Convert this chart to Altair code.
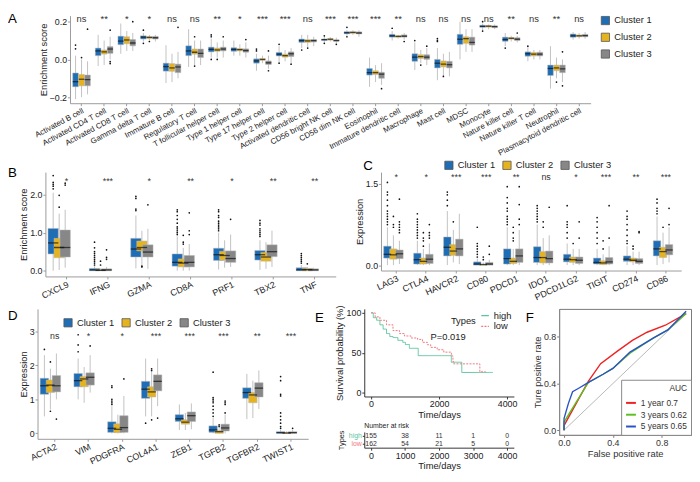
import altair as alt
import pandas as pd

FONT = "Liberation Sans"
CLUSTERS = ["Cluster 1", "Cluster 2", "Cluster 3"]
CL_COLORS = ["#1f6db4", "#e6b320", "#878787"]

# ---------------- Panel A ----------------
a_cats = ["Activated B cell", "Activated CD4 T cell", "Activated CD8 T cell", "Gamma delta T cell",
          "Immature B cell", "Regulatory T cell", "T follicular helper cell", "Type 1 helper cell",
          "Type 17 helper cell", "Type 2 helper cell", "Activated dendritic cell", "CD56 bright NK cell",
          "CD56 dim NK cell", "Eosinophil", "Immature dendritic cell", "Macrophage", "Mast cell", "MDSC",
          "Monocyte", "Nature killer cell", "Nature killer T cell", "Neutrophil", "Plasmacytoid dendritic cell"]
a_sig = ["ns", "**", "*", "*", "ns", "ns", "**", "*", "***", "***", "ns", "***", "***", "***", "**",
         "ns", "ns", "ns", "ns", "**", "ns", "**", "ns"]
# (lo, q1, median, q3, hi)
a_c1 = [(-0.21, -0.145, -0.118, -0.072, 0.02), (-0.035, 0.02, 0.045, 0.06, 0.13), (0.03, 0.078, 0.097, 0.123, 0.19),
        (0.095, 0.108, 0.118, 0.125, 0.14), (-0.125, -0.062, -0.038, -0.02, 0.075), (-0.04, 0.02, 0.045, 0.072, 0.16),
        (0.01, 0.04, 0.053, 0.065, 0.11), (0.02, 0.043, 0.053, 0.062, 0.1), (-0.06, -0.02, -0.008, 0.003, 0.03),
        (-0.015, 0.018, 0.028, 0.037, 0.07), (0.06, 0.09, 0.1, 0.108, 0.13), (0.09, 0.1, 0.105, 0.108, 0.12),
        (0.125, 0.136, 0.141, 0.147, 0.155), (-0.145, -0.083, -0.07, -0.048, 0.01), (0.1, 0.118, 0.125, 0.133, 0.15),
        (-0.056, -0.01, 0.012, 0.03, 0.09), (-0.11, -0.045, -0.02, 0.0, 0.06), (0.0, 0.08, 0.107, 0.133, 0.2),
        (0.155, 0.17, 0.175, 0.181, 0.19), (0.07, 0.096, 0.105, 0.118, 0.14), (-0.01, 0.017, 0.03, 0.04, 0.065),
        (-0.155, -0.085, -0.048, -0.03, 0.07), (0.105, 0.118, 0.125, 0.135, 0.145)]
a_c2 = [(-0.2, -0.14, -0.105, -0.08, 0.0), (-0.03, 0.028, 0.04, 0.05, 0.1), (0.045, 0.083, 0.103, 0.12, 0.15),
        (0.1, 0.11, 0.117, 0.12, 0.13), (-0.12, -0.063, -0.045, -0.022, 0.03), (-0.03, 0.028, 0.038, 0.055, 0.1),
        (0.01, 0.043, 0.05, 0.06, 0.09), (0.02, 0.045, 0.052, 0.058, 0.08), (-0.02, -0.005, 0.0, 0.005, 0.02),
        (-0.01, 0.012, 0.02, 0.028, 0.05), (0.065, 0.09, 0.098, 0.105, 0.13), (0.095, 0.102, 0.107, 0.11, 0.118),
        (0.13, 0.138, 0.143, 0.147, 0.155), (-0.12, -0.08, -0.07, -0.06, -0.03), (0.11, 0.117, 0.122, 0.126, 0.13),
        (-0.02, 0.005, 0.015, 0.025, 0.05), (-0.09, -0.04, -0.025, -0.008, 0.03), (0.04, 0.085, 0.11, 0.12, 0.16),
        (0.16, 0.171, 0.176, 0.18, 0.185), (0.095, 0.107, 0.112, 0.116, 0.125), (0.0, 0.018, 0.028, 0.037, 0.05),
        (-0.1, -0.06, -0.045, -0.03, 0.01), (0.11, 0.12, 0.125, 0.13, 0.14)]
a_c3 = [(-0.185, -0.14, -0.107, -0.083, -0.01), (0.0, 0.032, 0.055, 0.068, 0.12), (0.045, 0.072, 0.087, 0.105, 0.14),
        (0.095, 0.108, 0.115, 0.122, 0.13), (-0.1, -0.07, -0.04, -0.025, 0.04), (-0.03, 0.01, 0.032, 0.055, 0.1),
        (0.01, 0.045, 0.055, 0.065, 0.1), (0.01, 0.038, 0.047, 0.056, 0.09), (-0.05, -0.027, -0.018, -0.008, 0.02),
        (-0.02, 0.015, 0.03, 0.04, 0.06), (0.07, 0.092, 0.1, 0.105, 0.12), (0.085, 0.096, 0.1, 0.104, 0.115),
        (0.12, 0.135, 0.14, 0.146, 0.155), (-0.135, -0.1, -0.078, -0.068, -0.02), (0.105, 0.118, 0.123, 0.13, 0.14),
        (-0.03, 0.0, 0.012, 0.025, 0.06), (-0.09, -0.045, -0.028, -0.01, 0.04), (0.04, 0.076, 0.09, 0.118, 0.16),
        (0.16, 0.168, 0.174, 0.178, 0.185), (0.09, 0.1, 0.107, 0.115, 0.125), (0.0, 0.018, 0.028, 0.038, 0.05),
        (-0.12, -0.07, -0.05, -0.03, 0.0), (0.11, 0.12, 0.126, 0.133, 0.145)]
a_out = {
    "Activated B cell": [[0.076, 0.056], [0.01], [0.16]],
    "Activated CD4 T cell": [[], [], [0.155, -0.012, -0.022]],
    "Activated CD8 T cell": [[], [], [0.2]],
    "Gamma delta T cell": [[0.155, 0.085], [0.095], []],
    "Immature B cell": [[], [], [0.17]],
    "Regulatory T cell": [[], [0.12, -0.035], []],
    "T follicular helper cell": [[0.13, 0.12, 0.0], [0.0], [0.12]],
    "Type 1 helper cell": [[], [], [0.105]],
    "Type 17 helper cell": [[0.055, 0.045], [], [0.045, -0.06]],
    "Type 2 helper cell": [[0.08, -0.02], [], [-0.025]],
    "Activated dendritic cell": [[0.05], [0.06], []],
    "CD56 bright NK cell": [[0.125, 0.085], [], [0.08]],
    "CD56 dim NK cell": [[0.17, 0.12], [], []],
    "Eosinophil": [[], [], [-0.155]],
    "Immature dendritic cell": [[0.165], [], [0.095]],
    "Macrophage": [[0.1], [-0.03], [0.07]],
    "Mast cell": [[0.11, 0.1, 0.095], [-0.09], []],
    "Monocyte": [[0.2, 0.15], [], []],
    "Nature killer cell": [[0.06], [], [0.14]],
    "Nature killer T cell": [[0.07], [], []],
    "Neutrophil": [[], [-0.12], [-0.14, 0.04]],
}

# ---------------- Panel B ----------------
b_cats = ["CXCL9", "IFNG", "GZMA", "CD8A", "PRF1", "TBX2", "TNF"]
b_sig = ["*", "***", "*", "**", "*", "**", "**"]
b_c1 = [(0.0, 0.44, 0.73, 1.11, 2.05), (0.0, 0.0, 0.02, 0.06, 0.12), (0.06, 0.36, 0.57, 0.85, 1.45),
        (0.0, 0.12, 0.22, 0.44, 0.9), (0.03, 0.27, 0.42, 0.59, 1.0), (0.02, 0.28, 0.42, 0.53, 0.8),
        (0.0, 0.0, 0.02, 0.08, 0.15)]
b_c2 = [(0.02, 0.34, 0.61, 0.85, 1.5), (0.0, 0.0, 0.01, 0.03, 0.06), (0.12, 0.52, 0.61, 0.78, 1.05),
        (0.0, 0.1, 0.2, 0.31, 0.6), (0.08, 0.28, 0.4, 0.51, 0.8), (0.05, 0.25, 0.36, 0.48, 0.75),
        (0.0, 0.0, 0.03, 0.06, 0.1)]
b_c3 = [(0.08, 0.36, 0.61, 1.07, 1.6), (0.0, 0.0, 0.02, 0.05, 0.1), (0.05, 0.36, 0.49, 0.68, 1.1),
        (0.0, 0.1, 0.22, 0.4, 0.7), (0.1, 0.22, 0.32, 0.52, 0.95), (0.1, 0.37, 0.5, 0.68, 1.05),
        (0.0, 0.0, 0.02, 0.05, 0.08)]
b_out = {
    "CXCL9": [[2.5, 2.32, 2.27, 2.22, 2.15], [1.98, 1.67], [2.3, 2.25]],
    "IFNG": [[0.75, 0.6, 0.5, 0.45, 0.4, 0.35, 0.3, 0.25, 0.2, 0.15], [0.25, 0.15], [0.55, 0.35, 0.3]],
    "GZMA": [[1.95, 1.9, 1.62, 1.58], [0.1, 0.12], [1.73]],
    "CD8A": [[1.6, 1.55, 1.45, 1.35, 1.25, 1.15, 1.1, 1.05, 1.0, 0.95], [0.93, 0.75, 0.7], [1.52, 1.05, 0.95]],
    "PRF1": [[1.6, 1.55, 1.45, 1.4, 1.3, 1.25, 1.2, 1.15, 1.1, 1.05], [], [1.35]],
    "TBX2": [[1.32, 1.25, 1.2, 1.1, 1.05, 1.0, 0.95, 0.9], [], []],
    "TNF": [[0.45, 0.4, 0.35, 0.3, 0.25, 0.2], [0.18], []],
}

# ---------------- Panel C ----------------
c_cats = ["LAG3", "CTLA4", "HAVCR2", "CD80", "PDCD1", "IDO1", "PDCD1LG2", "TIGIT", "CD274", "CD86"]
c_sig = ["*", "*", "***", "***", "**", "ns", "*", "***", "**", "***"]
c_c1 = [(0.0, 0.13, 0.2, 0.35, 0.7), (0.0, 0.02, 0.1, 0.22, 0.45), (0.0, 0.17, 0.33, 0.52, 1.0),
        (0.0, 0.0, 0.02, 0.06, 0.12), (0.0, 0.02, 0.12, 0.3, 0.7), (0.0, 0.05, 0.14, 0.34, 0.75),
        (0.0, 0.06, 0.11, 0.2, 0.4), (0.0, 0.02, 0.05, 0.13, 0.3), (0.0, 0.07, 0.11, 0.17, 0.35),
        (0.0, 0.17, 0.3, 0.45, 0.9)]
c_c2 = [(0.0, 0.11, 0.19, 0.3, 0.55), (0.0, 0.02, 0.07, 0.13, 0.3), (0.05, 0.18, 0.26, 0.38, 0.65),
        (0.0, 0.0, 0.01, 0.02, 0.05), (0.0, 0.03, 0.07, 0.13, 0.3), (0.0, 0.04, 0.14, 0.25, 0.5),
        (0.0, 0.05, 0.1, 0.15, 0.3), (0.0, 0.01, 0.04, 0.08, 0.2), (0.0, 0.06, 0.09, 0.13, 0.25),
        (0.02, 0.14, 0.25, 0.33, 0.6)]
c_c3 = [(0.02, 0.12, 0.21, 0.28, 0.45), (0.0, 0.03, 0.11, 0.2, 0.4), (0.02, 0.17, 0.3, 0.48, 0.95),
        (0.0, 0.0, 0.02, 0.05, 0.1), (0.0, 0.05, 0.17, 0.3, 0.65), (0.0, 0.04, 0.12, 0.26, 0.55),
        (0.0, 0.03, 0.09, 0.15, 0.3), (0.0, 0.02, 0.06, 0.14, 0.35), (0.0, 0.03, 0.07, 0.12, 0.25),
        (0.05, 0.19, 0.28, 0.38, 0.7)]
c_out = {
    "LAG3": [[1.53, 1.35, 1.3, 1.2, 1.1, 1.0, 0.95, 0.9, 0.85, 0.8, 0.75], [0.9, 0.75, 0.7], [1.22, 0.8, 0.75, 0.7, 0.65, 0.6]],
    "CTLA4": [[0.95, 0.85, 0.8, 0.75, 0.7, 0.65, 0.6, 0.55, 0.5], [0.6, 0.5, 0.45, 0.35], [0.75, 0.6, 0.55, 0.5]],
    "HAVCR2": [[1.35, 1.3, 1.2, 1.1], [0.8], []],
    "CD80": [[0.7, 0.4, 0.35, 0.3, 0.25, 0.2, 0.15], [0.15, 0.1], [0.35, 0.2]],
    "PDCD1": [[1.45, 1.25, 1.15, 1.05, 1.0, 0.9, 0.85, 0.8, 0.75], [0.7, 0.6, 0.5, 0.45], [1.45, 1.12, 0.85, 0.75]],
    "IDO1": [[1.1, 1.05, 1.0, 0.95, 0.9, 0.85, 0.8], [0.8, 0.7], [1.07]],
    "PDCD1LG2": [[1.1, 0.8, 0.75, 0.7, 0.6, 0.5], [0.4], [0.8, 0.5]],
    "TIGIT": [[0.88, 0.8, 0.7, 0.6, 0.5, 0.4], [0.45, 0.3], [1.1, 0.5]],
    "CD274": [[1.0, 0.9, 0.85, 0.75, 0.65, 0.55, 0.45, 0.4], [0.35, 0.3], [0.62, 0.6]],
    "CD86": [[1.22, 1.15, 1.05, 1.0, 0.95], [0.7], [1.05, 0.75]],
}

# ---------------- Panel D ----------------
d_cats = ["ACTA2", "VIM", "PDGFRA", "COL4A1", "ZEB1", "TGFB2", "TGFBR2", "TWIST1"]
d_sig = ["ns", "*", "*", "***", "***", "***", "**", "***"]
d_c1 = [(0.5, 1.15, 1.4, 1.62, 2.3), (1.0, 1.37, 1.55, 1.76, 2.2), (0.0, 0.03, 0.15, 0.34, 0.8),
        (0.5, 1.03, 1.3, 1.53, 2.2), (0.1, 0.35, 0.43, 0.55, 0.85), (0.0, 0.03, 0.1, 0.22, 0.45),
        (0.42, 1.03, 1.2, 1.34, 1.75), (0.0, 0.0, 0.02, 0.05, 0.1)]
d_c2 = [(0.7, 1.2, 1.42, 1.57, 1.9), (0.9, 1.37, 1.6, 1.67, 1.95), (0.0, 0.02, 0.12, 0.28, 0.55),
        (0.5, 1.07, 1.22, 1.37, 1.85), (0.1, 0.27, 0.33, 0.4, 0.6), (0.0, 0.0, 0.05, 0.08, 0.15),
        (0.45, 0.9, 1.13, 1.2, 1.55), (0.0, 0.0, 0.01, 0.03, 0.06)]
d_c3 = [(1.0, 1.22, 1.4, 1.7, 2.35), (1.2, 1.42, 1.65, 1.78, 2.3), (0.0, 0.03, 0.17, 0.52, 1.1),
        (0.8, 1.25, 1.53, 1.72, 2.2), (0.12, 0.35, 0.52, 0.63, 0.88), (0.0, 0.07, 0.16, 0.27, 0.55),
        (0.72, 1.07, 1.33, 1.49, 1.85), (0.0, 0.0, 0.02, 0.05, 0.1)]
d_out = {
    "ACTA2": [[2.47], [2.1, 0.65], [0.42]],
    "VIM": [[2.9, 2.6, 2.4], [], [2.57]],
    "PDGFRA": [[1.4, 1.35, 1.0, 0.95, 0.9, 0.85], [], [1.6]],
    "COL4A1": [[0.3], [1.9, 1.85, 0.4], [0.45]],
    "TGFB2": [[1.8, 1.05, 1.0, 0.95, 0.9, 0.8, 0.7, 0.6, 0.5], [0.25, 0.2], [0.95, 0.9, 0.85, 0.6]],
    "TWIST1": [[1.67, 1.55, 1.15, 1.1, 0.6, 0.5, 0.4, 0.3, 0.2, 0.15], [], [0.15]],
}

# ---------------- Panel E (KM) ----------------
km_high_t = [0, 66, 165, 260, 355, 454, 549, 645, 789, 934, 1010, 1127, 1387, 2361, 2668, 3584]
km_high_s = [100, 94, 90.7, 85, 79.6, 74, 70.4, 69, 65.5, 63, 60.3, 55.5, 46.3, 38, 25.2, 25.2]
km_low_t = [0, 120, 260, 454, 645, 838, 983, 1176, 1368, 1512, 1656, 1754, 1945, 2139, 2361, 2408, 2428, 3199, 3372]
km_low_s = [100, 95, 90.7, 85, 77.8, 74, 71, 68.5, 66.7, 63, 60, 56.7, 53.7, 50.7, 46, 38.9, 36, 26, 26]
risk_times = [0, 1000, 2000, 3000, 4000]
risk_high = [155, 38, 11, 1, 0]
risk_low = [162, 54, 21, 5, 0]
km_types = ["high", "low"]
km_colors = ["#5cc49e", "#f0787c"]

# ---------------- Panel F (ROC) ----------------
roc_labels = ["1 year  0.7", "3 years 0.62", "5 years 0.65"]
roc_colors = ["#ee2222", "#5cbf22", "#2a52c8"]
roc1_fpr = [0, 0, 0.1, 0.2, 0.3, 0.44, 0.56, 0.68, 0.83, 1.0]
roc1_tpr = [0, 0.04, 0.23, 0.42, 0.57, 0.68, 0.77, 0.84, 0.9, 1.0]
roc3_fpr = [0, 0, 0.1, 0.2, 0.32, 0.4, 0.54, 0.73, 0.85, 1.0]
roc3_tpr = [0, 0.07, 0.24, 0.41, 0.48, 0.53, 0.66, 0.79, 0.86, 1.0]
roc5_fpr = [0, 0, 0.036, 0.07, 0.12, 0.2, 0.32, 0.4, 0.54, 0.73, 0.85, 1.0]
roc5_tpr = [0, 0.1, 0.23, 0.33, 0.36, 0.41, 0.48, 0.53, 0.67, 0.79, 0.86, 1.02]

AX_COL = "#9a9a9a"
TXT = "#222222"
LAB = 9
TIT = 9.5
LET = 13.5


def tag_mark(t, dx, dy):
    """Panel tag text drawn relative to a panel's frame (annotation, not data)."""
    return alt.Chart(pd.DataFrame({"tag": [t]})).mark_text(
        fontSize=LET, font=FONT, color="#000000", align="left", baseline="top").encode(
        text="tag:N", x=alt.value(dx), y=alt.value(dy))


def letter_cell(t, w=11, h=13, dy=0):
    """Small cell holding a panel tag, placed beside a panel by the concat layout."""
    return tag_mark(t, 0, dy).properties(width=w, height=h)


def box_panel(cats, sig, stats, outl, ydom, ysig, w, h, ytitle, yvals, yfmt, legend, extra=None,
              sig_size=9, lab_size=9, lab_angle=-25, pi=0.22, po=0.12):
    rows = []
    for ci, cl in enumerate(CLUSTERS):
        for cat, s in zip(cats, stats[ci]):
            lo, q1, med, q3, hi = s
            rows.append(dict(cat=cat, cluster=cl, lo=lo, q1=q1, med=med, q3=q3, hi=hi))
    df = pd.DataFrame(rows)
    orows = []
    for cat, lists in outl.items():
        for ci, vals in enumerate(lists):
            for v in vals:
                orows.append(dict(cat=cat, cluster=CLUSTERS[ci], v=v))
    odf = pd.DataFrame(orows)
    sdf = pd.DataFrame(dict(cat=cats, sig=sig, y=[ysig] * len(cats)))

    n = len(cats)
    step = w / (n - pi + 2 * po)
    band = step * (1 - pi)
    opi = 0.06
    obox = band / (3 - opi) * (1 - opi)

    xs = alt.Scale(domain=cats, paddingInner=pi, paddingOuter=po)
    xax = alt.Axis(title=None, labelAngle=lab_angle, labelAlign="right", labelBaseline="top",
                   labelFontSize=lab_size, labelColor=TXT, domainColor=AX_COL, tickColor=AX_COL, tickSize=2.5,
                   labelPadding=1, labelFont=FONT)
    x = alt.X("cat:N", scale=xs, axis=xax)
    xo = alt.XOffset("cluster:N", scale=alt.Scale(domain=CLUSTERS, paddingInner=opi, paddingOuter=0))
    ys = alt.Scale(domain=ydom, nice=False, zero=False)
    yax = alt.Axis(title=ytitle, values=yvals, format=yfmt, labelFontSize=LAB, titleFontSize=TIT,
                   labelColor=TXT, titleColor=TXT, domainColor=AX_COL, tickColor=AX_COL, tickSize=2.5,
                   labelPadding=1, titlePadding=1, titleFontWeight="normal", labelFont=FONT, titleFont=FONT)
    color = alt.Color("cluster:N", scale=alt.Scale(domain=CLUSTERS, range=CL_COLORS), legend=legend)

    whisk = alt.Chart(df).mark_rule(color="#b3b3b3", strokeWidth=0.8).encode(
        x=x, xOffset=xo, y=alt.Y("lo:Q", scale=ys, axis=yax), y2="hi:Q")
    box = alt.Chart(df).mark_bar(stroke="#b8b8b8", strokeWidth=0.5, width=obox).encode(
        x=x, xOffset=xo, y=alt.Y("q1:Q", scale=ys), y2="q3:Q", color=color)
    med = alt.Chart(df).mark_tick(color="#111111", thickness=1.3, size=obox).encode(
        x=x, xOffset=xo, y=alt.Y("med:Q", scale=ys))
    pts = alt.Chart(odf).mark_circle(color="#111111", size=3, opacity=1).encode(
        x=x, xOffset=xo, y=alt.Y("v:Q", scale=ys))
    txt = alt.Chart(sdf).mark_text(fontSize=sig_size, color="#333333", font=FONT).encode(
        x=x, y=alt.Y("y:Q", scale=ys), text="sig:N")
    layers = [whisk, box, med, pts, txt]
    if extra is not None:
        layers.append(extra)
    return alt.layer(*layers).properties(width=w, height=h)


def cl_legend(**kw):
    return alt.Legend(title=None, symbolType="square", symbolSize=70, symbolStrokeColor="#555555",
                      symbolStrokeWidth=0.8, labelFontSize=9.5, labelFont=FONT, labelColor=TXT, **kw)


legA = cl_legend(orient="right", rowPadding=5, offset=10)
legC = cl_legend(orient="none", direction="horizontal", legendX=64, legendY=-12, columnPadding=5)
legD = cl_legend(orient="none", direction="horizontal", legendX=56, legendY=9, columnPadding=5)

chartA = box_panel(a_cats, a_sig, [a_c1, a_c2, a_c3], a_out, [-0.232, 0.232], 0.215, 529, 89,
                   "Enrichment score", [-0.2, -0.1, 0.0, 0.1, 0.2], ".1f", legA,
                   sig_size=9.5, lab_size=8, lab_angle=-28)
chartB = box_panel(b_cats, b_sig, [b_c1, b_c2, b_c3], b_out, [-0.15, 2.59], 2.36, 295, 106,
                   "Enrichment score", [0, 0.5, 1.0, 1.5, 2.0, 2.5], ".1f", None)
chartC = box_panel(c_cats, c_sig, [c_c1, c_c2, c_c3], c_out, [-0.1, 1.72], 1.62, 305, 100,
                   "Expression", [0, 0.5, 1.0, 1.5], ".1f", legC, extra=tag_mark("C", -18, -13))
chartD = box_panel(d_cats, d_sig, [d_c1, d_c2, d_c3], d_out, [-0.16, 3.66], 2.85, 275, 132,
                   "Expression", [0, 1, 2, 3], "d", legD)

# ---- E ----
km_rows = []
for i, (t, s) in enumerate(zip(km_high_t, km_high_s)):
    km_rows.append(dict(type="high", t=t, s=s, i=i))
for i, (t, s) in enumerate(zip(km_low_t, km_low_s)):
    km_rows.append(dict(type="low", t=t, s=s, i=i))
km_df = pd.DataFrame(km_rows)
xs_km = alt.Scale(domain=[-200, 4200], nice=False)
km_xax = alt.Axis(title="Time/days", values=risk_times, format="d", labelFontSize=LAB, titleFontSize=TIT,
                  labelColor=TXT, titleColor=TXT, domainColor="#333333", tickColor="#333333", tickSize=2.5,
                  labelPadding=1, titlePadding=1, titleFontWeight="normal", labelFont=FONT, titleFont=FONT)
km_line = alt.Chart(km_df).mark_line(interpolate="step-after", strokeWidth=1).encode(
    x=alt.X("t:Q", scale=xs_km, axis=km_xax),
    y=alt.Y("s:Q", scale=alt.Scale(domain=[-5, 105], nice=False),
            axis=alt.Axis(title="Survival probability (%)", values=[0, 25, 50, 75, 100], labelFontSize=LAB,
                          titleFontSize=TIT, labelColor=TXT, titleColor=TXT, domainColor="#333333",
                          tickColor="#333333", tickSize=2.5, labelPadding=1, titlePadding=2,
                          titleFontWeight="normal", labelFont=FONT, titleFont=FONT)),
    color=alt.Color("type:N", scale=alt.Scale(domain=km_types, range=km_colors),
                    legend=alt.Legend(title="Types", orient="top-right", offset=2, titleOrient="left",
                                      symbolType="stroke", symbolStrokeWidth=1.2, symbolSize=60,
                                      labelFontSize=9.5, titleFontSize=9.5, titleFontWeight="normal",
                                      labelFont=FONT, titleFont=FONT, labelColor=TXT, titleColor=TXT,
                                      rowPadding=0, padding=0, titlePadding=4)),
    strokeDash=alt.StrokeDash("type:N", scale=alt.Scale(domain=km_types, range=[[1, 0], [2, 1.3]]), legend=None),
    order="i:Q")
p_df = pd.DataFrame(dict(t=[1750], s=[70], label=["P=0.019"]))
km_p = alt.Chart(p_df).mark_text(align="left", fontSize=9.5, font=FONT, color=TXT).encode(
    x=alt.X("t:Q", scale=xs_km), y=alt.Y("s:Q"), text="label:N")
chartE1 = alt.layer(km_line, km_p).properties(width=152, height=89)

risk_rows = []
for t, nh, nl in zip(risk_times, risk_high, risk_low):
    risk_rows.append(dict(type="high", t=t, n=nh))
    risk_rows.append(dict(type="low", t=t, n=nl))
risk_df = pd.DataFrame(risk_rows)
chartE2 = alt.Chart(risk_df).mark_text(fontSize=7, color="#333333", font=FONT).encode(
    x=alt.X("t:Q", scale=xs_km, axis=km_xax),
    y=alt.Y("type:N", sort=km_types, scale=alt.Scale(paddingOuter=0.25),
            axis=alt.Axis(title="Types", labelFontSize=7, titleFontSize=7.5, titleFontWeight="normal",
                          labelColor={"expr": "datum.value == 'high' ? '#5cc49e' : '#f0787c'"},
                          titleColor=TXT, domainColor="#333333", tickColor="#333333", tickSize=2,
                          labelPadding=1, titlePadding=3, labelFont=FONT, titleFont=FONT)),
    text="n:Q").properties(width=152, height=16,
                           title=alt.TitleParams("Number at risk", anchor="start", frame="group", fontSize=7,
                                                 fontWeight="normal", font=FONT, color=TXT, offset=1))
chartE = alt.vconcat(chartE1, chartE2, spacing=2).resolve_scale(color="independent",
                                                                  strokeDash="independent")
blockE = alt.concat(letter_cell("E", dy=2), chartE, columns=2, spacing=8, align="none").resolve_scale(
    color="independent", strokeDash="independent")

# ---- F ----
roc_rows = []
for lab, fp, tp in zip(roc_labels, [roc1_fpr, roc3_fpr, roc5_fpr], [roc1_tpr, roc3_tpr, roc5_tpr]):
    for i, (a, b) in enumerate(zip(fp, tp)):
        roc_rows.append(dict(curve=lab, fpr=a, tpr=b, i=i))
roc_df = pd.DataFrame(roc_rows)
diag_df = pd.DataFrame(dict(fpr=[0, 1], tpr=[0, 1]))
fx = alt.Scale(domain=[-0.04, 1.04], nice=False)
fy = alt.Scale(domain=[-0.04, 1.04], nice=False)
f_ax = dict(values=[0, 0.2, 0.4, 0.6, 0.8, 1.0], format=".1f", labelFontSize=LAB, titleFontSize=TIT,
            labelColor="#333333", titleColor="#333333", domainColor="#888888", tickColor="#777777",
            tickSize=2.5, labelPadding=1, titlePadding=1, titleFontWeight="normal", labelFont=FONT,
            titleFont=FONT)
diag = alt.Chart(diag_df).mark_line(color="#888888", strokeWidth=0.6).encode(
    x=alt.X("fpr:Q", scale=fx, axis=alt.Axis(title="False positive rate", **f_ax)),
    y=alt.Y("tpr:Q", scale=fy, axis=alt.Axis(title="Ture positive rate", **f_ax)))
roc = alt.Chart(roc_df).mark_line(strokeWidth=1.4).encode(
    x=alt.X("fpr:Q", scale=fx), y=alt.Y("tpr:Q", scale=fy),
    color=alt.Color("curve:N", scale=alt.Scale(domain=roc_labels, range=roc_colors),
                    legend=alt.Legend(title="AUC", orient="bottom-right", offset=0, symbolType="stroke",
                                      symbolStrokeWidth=2, symbolSize=100, labelFontSize=8.5, titleFontSize=8.5,
                                      titleFontWeight="normal", titleAnchor="end", labelFont=FONT,
                                      titleFont=FONT, labelColor="#333333", titleColor="#333333",
                                      strokeColor="#888888", fillColor="#ffffff", padding=4, rowPadding=1)),
    order="i:Q")
chartF = alt.layer(diag, roc, tag_mark("F", -34, 2)).properties(
    width=134, height=128, view=alt.ViewBackground(stroke="#777777", strokeWidth=1))

row1 = alt.concat(letter_cell("A", dy=-4), chartA, columns=2, spacing=14, align="none").resolve_scale(
    color="independent")
groupB = alt.concat(letter_cell("B", w=1, dy=-6), chartB, columns=2, spacing=0, align="none")
row2 = alt.concat(groupB, chartC, columns=2, spacing=18, align="none").resolve_scale(color="independent")
groupD = alt.concat(letter_cell("D", w=1, dy=0), chartD, columns=2, spacing=0, align="none")
row3 = alt.concat(groupD, blockE, chartF, columns=3, spacing=7, align="none").resolve_scale(
    color="independent", strokeDash="independent")
chart = alt.concat(row1, row2, row3, columns=1, spacing=2, align="none").resolve_scale(
    color="independent", strokeDash="independent").properties(padding=0)
chart = chart.configure(font=FONT).configure_view(stroke=None).configure_axis(grid=False)

chart.save("out.html", embed_options={"renderer": "svg", "actions": False})
